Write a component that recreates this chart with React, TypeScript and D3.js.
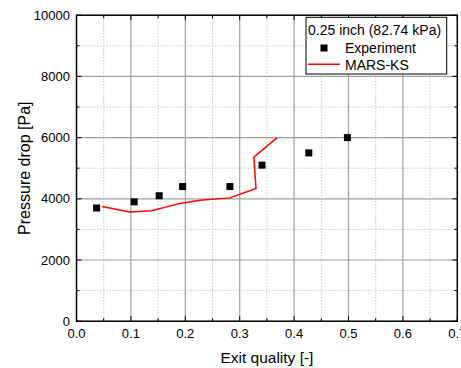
import React from "react";
import * as d3 from "d3";

const expX = [0.037, 0.106, 0.152, 0.195, 0.282, 0.341, 0.427, 0.498];
const expY = [3700, 3900, 4100, 4400, 4400, 5100, 5500, 6000];
const simX = [0.047, 0.098, 0.138, 0.19, 0.227, 0.282, 0.33, 0.326, 0.369];
const simY = [3750, 3570, 3610, 3850, 3950, 4030, 4340, 5360, 6000];
const xTicks = [0, 0.1, 0.2, 0.3, 0.4, 0.5, 0.6, 0.7];
const xMinor = [0.05, 0.15, 0.25, 0.35, 0.45, 0.55, 0.65];
const yTicks = [0, 2000, 4000, 6000, 8000, 10000];
const yMinor = [1000, 3000, 5000, 7000, 9000];

const W = 461, H = 368;
const L = 76.5, R = 457.3, T = 15.2, B = 321.2;

export default function App() {
  const x = d3.scaleLinear().domain([0, 0.7]).range([L, R]);
  const y = d3.scaleLinear().domain([0, 10000]).range([B, T]);
  const line = d3.line<number>().x((d) => x(simX[d])).y((d) => y(simY[d]));
  const font = "'Liberation Sans', Arial, sans-serif";
  return (
    <svg width={W} height={H} style={{ position: "absolute", left: 0, top: 0, fontFamily: font }}>
      <rect x={0} y={0} width={W} height={H} fill="#fff" />
      {/* minor grid */}
      {xMinor.map((v) => (
        <line key={"xm" + v} x1={x(v)} x2={x(v)} y1={T} y2={B} stroke="#c8c8c8" strokeWidth={1} strokeDasharray="1.5,1.5" />
      ))}
      {yMinor.map((v) => (
        <line key={"ym" + v} x1={L} x2={R} y1={y(v)} y2={y(v)} stroke="#c8c8c8" strokeWidth={1} strokeDasharray="1.5,1.5" />
      ))}
      {/* major grid */}
      {xTicks.slice(1, -1).map((v) => (
        <line key={"xg" + v} x1={x(v)} x2={x(v)} y1={T} y2={B} stroke="#a0a0a0" strokeWidth={1.2} />
      ))}
      {yTicks.slice(1, -1).map((v) => (
        <line key={"yg" + v} x1={L} x2={R} y1={y(v)} y2={y(v)} stroke="#a0a0a0" strokeWidth={1.2} />
      ))}
      {/* ticks */}
      {xTicks.map((v) => (
        <g key={"xt" + v}>
          <line x1={x(v)} x2={x(v)} y1={B} y2={B - 5} stroke="#000" strokeWidth={1} />
          <line x1={x(v)} x2={x(v)} y1={T} y2={T + 5} stroke="#000" strokeWidth={1} />
        </g>
      ))}
      {xMinor.map((v) => (
        <g key={"xmt" + v}>
          <line x1={x(v)} x2={x(v)} y1={B} y2={B - 3} stroke="#000" strokeWidth={1} />
          <line x1={x(v)} x2={x(v)} y1={T} y2={T + 3} stroke="#000" strokeWidth={1} />
        </g>
      ))}
      {yTicks.map((v) => (
        <g key={"yt" + v}>
          <line x1={L} x2={L + 5} y1={y(v)} y2={y(v)} stroke="#000" strokeWidth={1} />
          <line x1={R} x2={R - 5} y1={y(v)} y2={y(v)} stroke="#000" strokeWidth={1} />
        </g>
      ))}
      {yMinor.map((v) => (
        <g key={"ymt" + v}>
          <line x1={L} x2={L + 3} y1={y(v)} y2={y(v)} stroke="#000" strokeWidth={1} />
          <line x1={R} x2={R - 3} y1={y(v)} y2={y(v)} stroke="#000" strokeWidth={1} />
        </g>
      ))}
      {/* frame */}
      <rect x={L} y={T} width={R - L} height={B - T} fill="none" stroke="#000" strokeWidth={1.5} />
      {/* tick labels */}
      {xTicks.map((v) => (
        <text key={"xl" + v} x={x(v)} y={B + 17} fontSize={13} textAnchor="middle" fill="#000">
          {d3.format(".1f")(v)}
        </text>
      ))}
      {yTicks.map((v) => (
        <text key={"yl" + v} x={L - 6.5} y={y(v) + 4.5} fontSize={13} textAnchor="end" fill="#000">
          {v}
        </text>
      ))}
      {/* axis titles */}
      <text x={(L + R) / 2} y={363} fontSize={15.5} textAnchor="middle" fill="#000">
        Exit quality [-]
      </text>
      <text transform={`translate(30,${(T + B) / 2}) rotate(-90)`} fontSize={16} textAnchor="middle" fill="#000">
        Pressure drop [Pa]
      </text>
      {/* data */}
      <path d={line(d3.range(simX.length)) || ""} fill="none" stroke="#ff0000" strokeWidth={1.5} />
      {expX.map((v, i) => (
        <rect key={"p" + i} x={x(v) - 3.5} y={y(expY[i]) - 3.5} width={7} height={7} fill="#000" />
      ))}
      {/* legend */}
      <rect x={306} y={17.3} width={140.7} height={56.7} fill="#fff" stroke="#000" strokeWidth={1} />
      <text x={308} y={35} fontSize={14} fill="#000">0.25 inch (82.74 kPa)</text>
      <rect x={320.5} y={44.5} width={7} height={7} fill="#000" />
      <text x={345} y={52.5} fontSize={14} fill="#000">Experiment</text>
      <line x1={307.7} x2={340} y1={64.3} y2={64.3} stroke="#ff0000" strokeWidth={1.5} />
      <text x={345} y={70} fontSize={14} fill="#000">MARS-KS</text>
    </svg>
  );
}
